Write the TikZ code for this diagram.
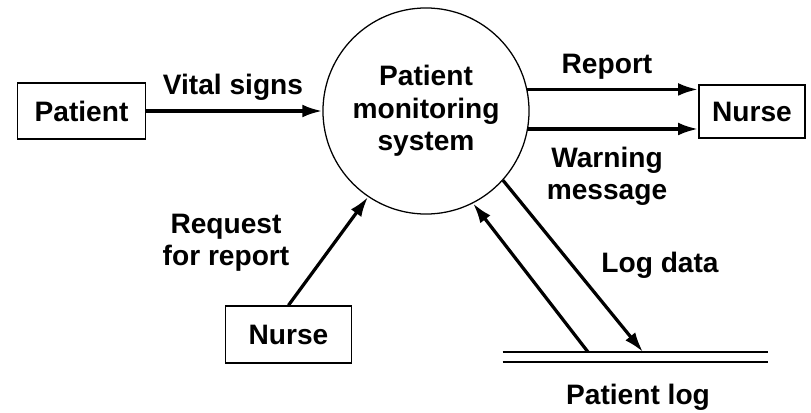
\documentclass[tikz,border=0pt]{standalone}
\usepackage{fontspec}
\setmainfont{Liberation Sans}
\usetikzlibrary{arrows.meta}

\begin{document}
\begin{tikzpicture}[%%
  x=0.025cm,y=-0.025cm,
  font=\fontsize{20}{23}\selectfont\bfseries,
  entityStyle/.style={draw,line width=1.2pt,inner sep=0pt},
  processStyle/.style={draw,line width=0.9pt,circle,inner sep=0pt,minimum size=5.15cm,align=center},
  flowStyle/.style={-{Latex[length=0.5cm,width=0.32cm]},line width=2.3pt},
  storeStyle/.style={line width=1.2pt},
  labelStyle/.style={align=center}
]
%%
\useasboundingbox (0,0) rectangle (811,413);
%%
%% The process and the entities.
\node[processStyle] (system) at (426,111) {Patient\\monitoring\\system};
\node[entityStyle,minimum width=3.2cm,minimum height=1.4cm] (patient) at (81.5,111) {Patient};
\node[entityStyle,minimum width=2.65cm,minimum height=1.33cm] (nurseOut) at (752,111.5) {Nurse};
\node[entityStyle,minimum width=3.15cm,minimum height=1.42cm] (nurseIn) at (288.5,334.5) {Nurse};
%%
%% The data store.
\node[minimum width=6.625cm,minimum height=0.25cm,inner sep=0pt] (store) at (635.5,357) {};
\draw[storeStyle] (store.north west) -- (store.north east);
\draw[storeStyle] (store.south west) -- (store.south east);
\coordinate (logIn) at (643,352);
\coordinate (logOut) at (588,352);
%%
%% The data flows.
\draw[flowStyle] (patient) -- (system);
\draw[flowStyle] (system.12) -- (system.12 -| nurseOut.west);
\draw[flowStyle] (system.-10.6) -- (system.-10.6 -| nurseOut.west);
\draw[flowStyle] (nurseIn.north) -- (system.-124);
\draw[flowStyle] (system.-42) -- (logIn);
\draw[flowStyle] (logOut) -- (system.-63);
%%
%% The labels.
\node (vitalLabel) at (233,87) {Vital signs};
\node (reportLabel) at (607,67) {Report};
\node[labelStyle] (warningLabel) at (607,176) {Warning\\message};
\node[labelStyle] (requestLabel) at (226,243) {Request\\for report};
\node (logDataLabel) at (660,265) {Log data};
\node (logLabel) at (638,397) {Patient log};
\end{tikzpicture}
\end{document}
